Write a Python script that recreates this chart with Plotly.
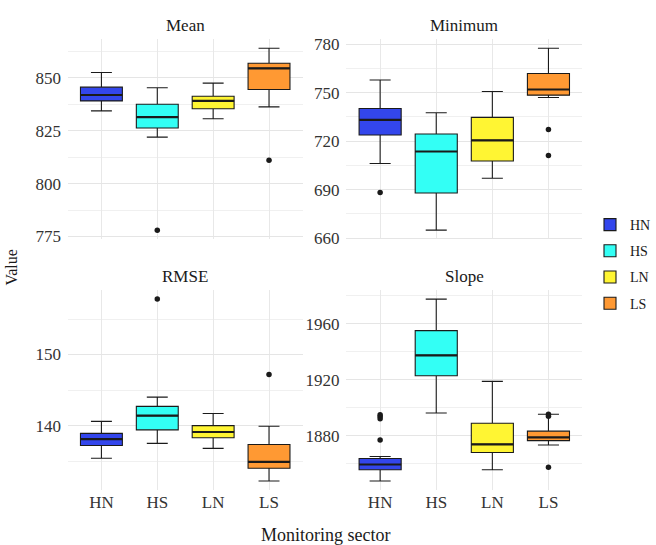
import plotly.graph_objects as go

sectors = ["HN", "HS", "LN", "LS"]
colors = ["#3346EC", "#33FFF5", "#FFF533", "#FF9933"]
panels = ["Mean", "Minimum", "RMSE", "Slope"]

# per panel: lists indexed by sector
lowf = {
    "Mean": [834.4, 822.0, 830.7, 836.3],
    "Minimum": [706.2, 665.0, 697.1, 747.0],
    "RMSE": [135.4, 137.5, 136.8, 132.2],
    "Slope": [1847.7, 1896.2, 1855.7, 1873.4],
}
q1 = {
    "Mean": [839.1, 826.3, 835.4, 844.5],
    "Minimum": [723.8, 688.0, 707.7, 748.4],
    "RMSE": [137.2, 139.4, 138.3, 134.0],
    "Slope": [1855.7, 1922.8, 1868.0, 1876.5],
}
med = {
    "Mean": [841.9, 831.4, 839.1, 854.5],
    "Minimum": [733.1, 713.6, 720.5, 751.9],
    "RMSE": [138.1, 141.4, 139.1, 134.9],
    "Slope": [1859.5, 1937.4, 1873.9, 1878.8],
}
q3 = {
    "Mean": [845.6, 837.5, 841.3, 856.9],
    "Minimum": [740.2, 724.4, 734.7, 761.8],
    "RMSE": [138.9, 142.7, 140.0, 137.35],
    "Slope": [1863.8, 1955.0, 1888.9, 1883.3],
}
upf = {
    "Mean": [852.5, 845.3, 847.5, 864.0],
    "Minimum": [757.8, 737.5, 750.7, 777.4],
    "RMSE": [140.6, 144.0, 141.7, 139.9],
    "Slope": [1865.2, 1977.5, 1918.8, 1895.3],
}
outliers = {
    "Mean": [[], [778.0], [], [811.1]],
    "Minimum": [[688.3], [], [], [727.2, 711.2]],
    "RMSE": [[], [157.8], [], [147.2]],
    "Slope": [[1893.8, 1892.2, 1895.0, 1876.9], [], [], [1895.3, 1894.0, 1857.6]],
}
yticks = {
    "Mean": [775, 800, 825, 850],
    "Minimum": [660, 690, 720, 750, 780],
    "RMSE": [140, 150],
    "Slope": [1880, 1920, 1960],
}
yminor = {"Mean": 12.5, "Minimum": 15, "RMSE": 5, "Slope": 20}

W, H = 656, 545
xdom_px = [(68, 303), (347, 583), (68, 303), (347, 583)]
ydom_px = [(36, 241), (36, 241), (293, 498), (293, 498)]

fig = go.Figure()
FONT = "Liberation Serif, Times New Roman, serif"
BW = 0.75

for p, name in enumerate(panels):
    xa = "x" if p == 0 else f"x{p+1}"
    ya = "y" if p == 0 else f"y{p+1}"
    for i, s in enumerate(sectors):
        fig.add_trace(go.Box(
            x=[i], q1=[q1[name][i]], median=[med[name][i]], q3=[q3[name][i]],
            lowerfence=[lowf[name][i]], upperfence=[upf[name][i]],
            name=s, legendgroup=s, showlegend=(p == 0),
            fillcolor=colors[i], line=dict(color="#1a1a1a", width=1.1),
            width=BW, xaxis=xa, yaxis=ya, hoverinfo="skip",
        ))
        # thicker median line (ggplot style)
        fig.add_shape(type="line", xref=xa, yref=ya,
                      x0=i - BW / 2, x1=i + BW / 2,
                      y0=med[name][i], y1=med[name][i],
                      line=dict(color="#1a1a1a", width=2.2))
        if outliers[name][i]:
            fig.add_trace(go.Scatter(
                x=[i] * len(outliers[name][i]), y=outliers[name][i],
                mode="markers", marker=dict(color="#1a1a1a", size=5.5),
                showlegend=False, xaxis=xa, yaxis=ya, hoverinfo="skip",
            ))
    # y range with ggplot 5% expansion
    vals = lowf[name] + upf[name] + [v for o in outliers[name] for v in o]
    lo, hi = min(vals), max(vals)
    pad = (hi - lo) * 0.05
    x0, x1 = xdom_px[p]
    yt, yb = ydom_px[p]
    axis_common = dict(showline=False, zeroline=False, ticks="",
                       tickfont=dict(family=FONT, size=17, color="#333333"))
    fig.layout[("xaxis" if p == 0 else f"xaxis{p+1}")] = dict(
        domain=[x0 / W, x1 / W], anchor=ya, range=[-0.6, 3.6],
        tickvals=list(range(4)), ticktext=sectors, showgrid=True,
        gridcolor="#E8E8E8", gridwidth=1, showticklabels=(p >= 2),
        ticklabelstandoff=0, **axis_common)
    fig.layout[("yaxis" if p == 0 else f"yaxis{p+1}")] = dict(
        domain=[1 - yb / H, 1 - yt / H], anchor=xa, range=[lo - pad, hi + pad],
        tickvals=yticks[name], showgrid=True, gridcolor="#E5E5E5", gridwidth=1,
        minor=dict(dtick=yminor[name], tick0=yticks[name][0], showgrid=True,
                   gridcolor="#F0F0F0", gridwidth=1),
        ticklabelstandoff=6, **axis_common)
    fig.add_annotation(text=name, x=(x0 + x1) / 2 / W, y=1 - (yt - 14) / H,
                       xref="paper", yref="paper", showarrow=False,
                       xanchor="center", yanchor="middle",
                       font=dict(family=FONT, size=17, color="#1a1a1a"))

fig.add_annotation(text="Monitoring sector", x=326 / W, y=1 - 544 / H,
                   xref="paper", yref="paper", showarrow=False,
                   xanchor="center", yanchor="middle",
                   font=dict(family=FONT, size=18, color="#1a1a1a"))
fig.add_annotation(text="Value", x=12 / W, y=1 - 270 / H, textangle=-90,
                   xref="paper", yref="paper", showarrow=False,
                   xanchor="center", yanchor="middle",
                   font=dict(family=FONT, size=16, color="#1a1a1a"))

fig.update_layout(
    width=W, height=H, margin=dict(l=0, r=0, t=0, b=0),
    paper_bgcolor="white", plot_bgcolor="white", boxmode="overlay",
    legend=dict(x=591 / W, y=1 - 210 / H, xanchor="left", yanchor="top",
                font=dict(family=FONT, size=14, color="#1a1a1a"),
                tracegroupgap=5, itemwidth=30, bgcolor="rgba(0,0,0,0)"),
)

fig.write_html("out.html", config={"displayModeBar": False},
               post_script="document.body.style.margin='0';")
